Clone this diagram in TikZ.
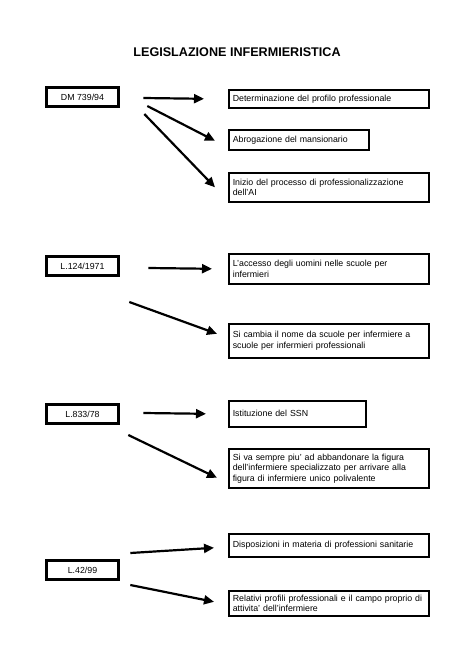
\documentclass[tikz,border=0pt]{standalone}
\usepackage{fontspec}
\setmainfont{Liberation Sans}
\usetikzlibrary{arrows.meta}
\hyphenpenalty=10000
\exhyphenpenalty=10000
\begin{document}
\begin{tikzpicture}[x=1pt,y=-1pt,
	legge/.style={draw=black, line width=3.6pt, minimum width=72pt, minimum height=19pt, inner sep=2pt, font=\fontsize{8.8}{10.5}\selectfont},
	voce/.style={draw=black, line width=1.6pt, anchor=north west, text width=192pt, inner sep=4pt, align=left, font=\fontsize{8.8}{10.5}\selectfont},
	freccia/.style={draw=black, line width=2.2pt, -{Triangle[length=10pt,width=9pt]}}]
	\useasboundingbox[fill=white] (0,0) rectangle (474,669);
	\node (titolo) at (237,52) [font=\fontsize{12.6}{15}\selectfont\bfseries] {LEGISLAZIONE INFERMIERISTICA};
	% DM 739/94
	\node (dm) at (82.5,97) [legge] {DM 739/94};
	\node (det) at (228,89) [voce, minimum height=18pt] {Determinazione del profilo professionale};
	\node (abr) at (228,129) [voce, text width=132pt, minimum height=20pt] {Abrogazione del mansionario};
	\node (ini) at (228,172) [voce, minimum height=29pt] {Inizio del processo di professionalizzazione dell'AI};
	\draw[freccia] ([shift={(23,1)}]dm.east) -- ([shift={(-24,0)}]det.west);
	\draw[freccia] ([shift={(27,9)}]dm.east) -- ([shift={(-13,1)}]abr.west);
	\draw[freccia] ([shift={(24,17)}]dm.east) -- ([shift={(-13,0)}]ini.west);
	% L.124/1971
	\node (l124) at (82.5,266) [legge] {L.124/1971};
	\node (acc) at (228,253) [voce, minimum height=30pt] {L'accesso degli uomini nelle scuole per infermieri};
	\node (cam) at (228,323) [voce, minimum height=34pt] {Si cambia il nome da scuole per infermiere a scuole per infermieri professionali};
	\draw[freccia] ([shift={(28,2)}]l124.east) -- ([shift={(-16,0)}]acc.west);
	\draw[freccia] ([shift={(9,36)}]l124.east) -- ([shift={(-11,-7)}]cam.west);
	% L.833/78
	\node (l833) at (82.5,414) [legge] {L.833/78};
	\node (ssn) at (228,400) [voce, text width=129pt, minimum height=26pt] {Istituzione del SSN};
	\node (abb) at (228,448) [voce, minimum height=39pt] {Si va sempre piu' ad abbandonare la figura dell'infermiere specializzato per arrivare alla figura di infermiere unico polivalente};
	\draw[freccia] ([shift={(23,-1)}]l833.east) -- ([shift={(-22,0)}]ssn.west);
	\draw[freccia] ([shift={(8,21)}]l833.east) -- ([shift={(-11,9.5)}]abb.west);
	% L.42/99
	\node (l42) at (82.5,570) [legge] {L.42/99};
	\node (dis) at (228,533) [voce, minimum height=23pt] {Disposizioni in materia di professioni sanitarie};
	\node (rel) at (228,590) [voce, minimum height=25pt] {Relativi profili professionali e il campo proprio di attivita' dell'infermiere};
	\draw[freccia] ([shift={(10,-17)}]l42.east) -- ([shift={(-14,2.5)}]dis.west);
	\draw[freccia] ([shift={(10,15)}]l42.east) -- ([shift={(-14,-1.5)}]rel.west);
\end{tikzpicture}
\end{document}
